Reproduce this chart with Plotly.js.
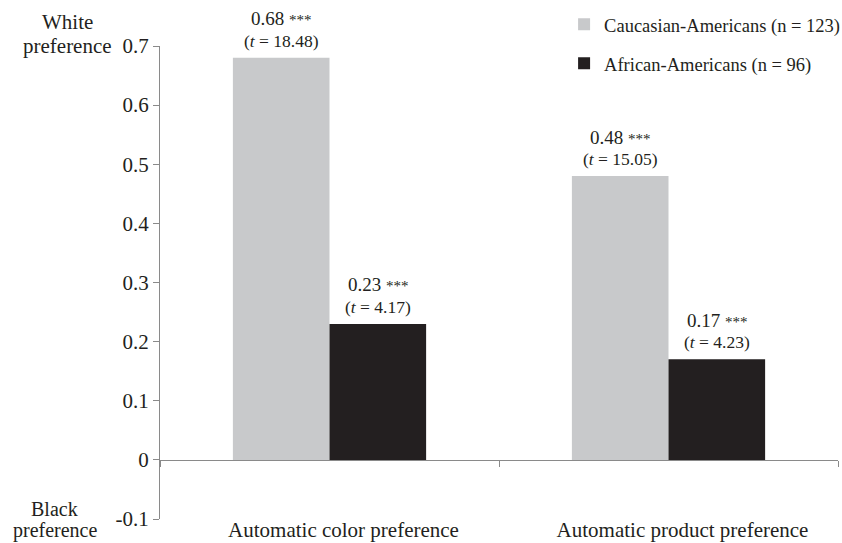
<!DOCTYPE html>
<html><head><meta charset="utf-8">
<script src="https://cdn.plot.ly/plotly-3.0.1.min.js"></script>
<style>body{margin:0}#c{width:842px;height:543px}</style>
</head><body><div id="c"></div>
<script>
const categories = ['Automatic color preference', 'Automatic product preference'];
const caucasianValues = [0.68, 0.48];
const caucasianT = ['18.48', '15.05'];
const africanValues = [0.23, 0.17];
const africanT = ['4.17', '4.23'];
const sig = ['***', '***'];
const yTickVals = [-0.1, 0, 0.1, 0.2, 0.3, 0.4, 0.5, 0.6, 0.7];
const yTickText = ['-0.1', '0', '0.1', '0.2', '0.3', '0.4', '0.5', '0.6', '0.7'];

const FONT = 'Liberation Serif, Times New Roman, serif';

const traces = [
  {type: 'bar', name: 'Caucasian-Americans (n = 123)', x: categories, y: caucasianValues,
   marker: {color: '#c8c9cb'}, legendgroup: 'a', hoverinfo: 'y'},
  {type: 'bar', name: 'African-Americans (n = 96)', x: categories, y: africanValues,
   marker: {color: '#231f20'}, legendgroup: 'b', hoverinfo: 'y'},
  {type: 'scatter', x: [0], y: [0], xaxis: 'x2', mode: 'markers', marker: {opacity: 0}, showlegend: false, hoverinfo: 'skip'}
];

// value labels above each bar
const BAR_HALF = 48.5; // pixel offset of each bar centre from the category centre
const valueAnnotations = [];
[[caucasianValues, caucasianT, -BAR_HALF], [africanValues, africanT, BAR_HALF]].forEach(([vals, ts, dx]) => {
  vals.forEach((v, i) => {
    valueAnnotations.push({x: categories[i], y: v, xref: 'x', yref: 'y', xshift: dx, yshift: 39,
      xanchor: 'center', yanchor: 'middle', showarrow: false,
      text: v.toFixed(2) + " <span style='font-size:15px'>" + sig[i] + "</span>",
      font: {family: FONT, size: 19, color: '#231f20'}});
    valueAnnotations.push({x: categories[i], y: v, xref: 'x', yref: 'y', xshift: dx, yshift: 17,
      xanchor: 'center', yanchor: 'middle', showarrow: false,
      text: "(<i>t</i> = " + ts[i] + ")",
      font: {family: FONT, size: 17.5, color: '#231f20'}});
  });
});

const ann = (text, x, y, ys, size) => ({xref: 'paper', yref: 'paper', x: x, y: y, xanchor: 'center', yanchor: 'middle',
  text: text, showarrow: false, font: {family: FONT, size: size, color: '#231f20'}, yshift: ys});

const layout = {
  width: 842, height: 543,
  margin: {l: 160, r: 4, t: 46, b: 24, autoexpand: false},
  paper_bgcolor: 'white', plot_bgcolor: 'white',
  font: {family: FONT, size: 18, color: '#231f20'},
  barmode: 'group', bargap: 0.43, bargroupgap: 0,
  showlegend: true,
  legend: {x: 0.596, xanchor: 'left', y: 1.085, yanchor: 'top', font: {family: FONT, size: 18.5},
           traceorder: 'grouped', tracegroupgap: 12, bgcolor: 'rgba(0,0,0,0)', itemwidth: 30},
  xaxis: {type: 'category', showline: false, ticks: '', showgrid: false, zeroline: false,
          tickfont: {family: FONT, size: 21}, automargin: false, ticklabelstandoff: -4, ticklabelshift: 14},
  xaxis2: {overlaying: 'x', anchor: 'free', position: 0.125, range: [-0.5, 1.5],
           tickvals: [-0.5, 0.5, 1.5], showticklabels: false, ticks: 'outside', ticklen: 6,
           tickcolor: '#8a8a8a', showline: true, linecolor: '#8a8a8a', linewidth: 1,
           showgrid: false, zeroline: false},
  yaxis: {range: [-0.1, 0.7], tickvals: yTickVals, ticktext: yTickText, ticks: 'outside',
          ticklen: 6, tickcolor: '#8a8a8a', showline: true, linecolor: '#8a8a8a', automargin: false,
          showgrid: false, zeroline: false, tickfont: {family: FONT, size: 21}},
  annotations: [
    ann('White', -0.1357, 1, 24, 21), ann('preference', -0.1357, 1, 0, 21),
    ann('Black', -0.1549, 0, 10, 20), ann('preference', -0.1549, 0, -11, 20)
  ].concat(valueAnnotations)
};
Plotly.newPlot('c', traces, layout, {displayModeBar: false});
</script></body></html>
